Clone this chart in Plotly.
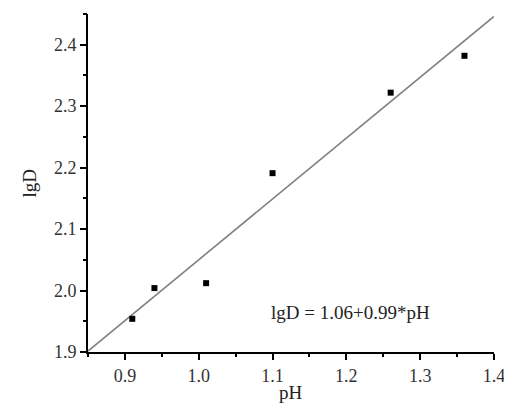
import plotly.graph_objects as go

ph = [0.91, 0.94, 1.01, 1.10, 1.26, 1.36]
lgd = [1.954, 2.004, 2.012, 2.191, 2.322, 2.382]
fit_x = [0.85, 1.40]
intercept = 1.06
slope = 0.99
fit_y = [intercept + slope * v for v in fit_x]
x_ticks = [0.9, 1.0, 1.1, 1.2, 1.3, 1.4]
y_ticks = [1.9, 2.0, 2.1, 2.2, 2.3, 2.4]
x_minor = [0.85, 0.95, 1.05, 1.15, 1.25, 1.35]
y_minor = [1.95, 2.05, 2.15, 2.25, 2.35, 2.45]
x_range = [0.85, 1.40]
y_range = [1.90, 2.45]

font = "Liberation Serif, Times New Roman, serif"

fig = go.Figure()
fig.add_trace(go.Scatter(x=fit_x, y=fit_y, mode="lines",
                         line=dict(color="#808080", width=1.6), showlegend=False, cliponaxis=False))
fig.add_trace(go.Scatter(x=ph, y=lgd, mode="markers",
                         marker=dict(symbol="square", size=6, color="black"), showlegend=False))
# invisible trace so the minor-tick overlay axes are drawn
fig.add_trace(go.Scatter(x=fit_x, y=fit_y, xaxis="x2", yaxis="y2", mode="lines",
                         line=dict(width=0), opacity=0, showlegend=False, hoverinfo="skip"))

fig.add_annotation(x=1.205, y=1.965, xref="x", yref="y", text="lgD = 1.06+0.99*pH",
                   showarrow=False, font=dict(family=font, size=19, color="#222"))
fig.add_annotation(x=0.5, y=-0.082, xref="paper", yref="paper", text="pH", yanchor="top",
                   showarrow=False, font=dict(family=font, size=19, color="#222"))
fig.add_annotation(x=-0.175, y=0.5, xref="paper", yref="paper", text="lgD", textangle=-90,
                   showarrow=False, font=dict(family=font, size=19, color="#222"))

axis_common = dict(showline=True, linecolor="#000", linewidth=2, ticks="outside",
                   ticklen=6, tickwidth=2, tickcolor="#000", showgrid=False, zeroline=False,
                   automargin=False,
                   tickfont=dict(family=font, size=18, color="#333"), tickformat=".1f")
minor_common = dict(showline=False, ticks="outside", ticklen=4, tickwidth=2, tickcolor="#000",
                    showgrid=False, zeroline=False, showticklabels=False, automargin=False)

fig.update_layout(
    xaxis=dict(range=x_range, tickvals=x_ticks, **axis_common),
    yaxis=dict(range=y_range, tickvals=y_ticks, **axis_common),
    xaxis2=dict(range=x_range, tickvals=x_minor, overlaying="x", side="bottom", anchor="y2", **minor_common),
    yaxis2=dict(range=y_range, tickvals=y_minor, overlaying="y", side="left", anchor="x2", **minor_common),
)

# page body has an 8px default margin, so the figure is sized to fit inside the window
fig.update_layout(width=500, height=398, margin=dict(l=80, r=14, t=6, b=54),
                  paper_bgcolor="white", plot_bgcolor="white")

fig.write_html("out.html")
